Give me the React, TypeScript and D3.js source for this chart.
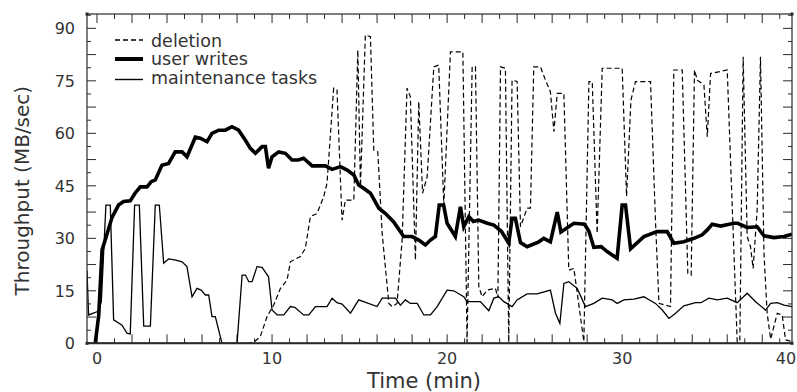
import React from "react";
import * as d3 from "d3";

// time (min), throughput (MB/sec)
const deletionSeries: [number, number][] = [
  [-0.57, 0], [8.7, 0], [8.95, 0.3], [9.33, 1.9], [9.71, 7.6], [10.1, 11], [10.48, 15.7], [10.86, 18.1],
  [11.05, 23.3], [11.23, 23.8], [11.62, 24.8], [11.9, 27.1], [12.19, 36.2], [12.57, 37.1], [12.95, 41.9],
  [13.14, 45.7], [13.52, 72.9], [13.71, 72.4], [13.9, 47.6], [14.0, 35.2], [14.19, 40.9], [14.67, 40.9],
  [14.9, 83.8], [15.05, 44.8], [15.33, 88.1], [15.62, 87.6], [15.81, 55.2], [16.04, 54.7], [16.29, 31.4],
  [16.67, 11.4], [16.86, 10.5], [17.14, 11.4], [17.43, 29.5], [17.71, 72.9], [17.9, 70.5], [18.19, 23.8],
  [18.38, 69], [18.6, 42.9], [18.86, 47.6], [19.24, 79], [19.52, 79.5], [19.81, 39.5], [20.19, 83.3],
  [20.9, 83.3], [21.14, 0.3], [21.43, 79], [21.62, 79], [21.81, 16.2], [22.0, 13.3], [22.29, 15.2],
  [22.76, 15.7], [22.9, 13], [23.05, 79], [23.33, 78.6], [23.52, 0.3], [23.71, 75.2], [24.0, 74.8],
  [24.19, 33.3], [24.57, 38.6], [24.76, 38.6], [24.95, 79], [25.33, 79], [25.62, 75.2], [25.9, 71.9],
  [26.1, 60.5], [26.29, 71.4], [26.67, 71.4], [26.95, 20.9], [27.24, 21.4], [27.81, 0.5], [28.1, 74.8],
  [28.29, 74.8], [28.57, 31.4], [28.86, 78.6], [30.0, 78.6], [30.25, 42], [30.5, 69.5], [30.76, 74.8],
  [31.62, 74.8], [31.9, 35.2], [32.1, 11.4], [32.76, 10.5], [32.95, 78.1], [33.43, 78.1], [33.75, 20],
  [33.94, 19.5], [34.13, 78.1], [34.29, 75.2], [34.67, 73.8], [34.86, 59], [35.05, 77.1], [36.0, 78.1],
  [36.57, 0.5], [36.72, 0.5], [36.91, 81.9], [37.14, 30.5], [37.33, 27.6], [37.48, 21.4], [37.71, 38.1],
  [37.9, 81.9], [38.1, 25.7], [38.28, 8.6], [38.48, 1.2], [38.86, 8.6], [39.14, 8.1], [39.33, 1], [39.7, 0.5],
];

const userWritesSeries: [number, number][] = [
  [-0.1, 0], [0.1, 8], [0.29, 26.7], [0.47, 29.5], [0.86, 36], [1.23, 39.5], [1.52, 40.5], [1.9, 40.7],
  [2.19, 43], [2.48, 44.7], [2.86, 44.7], [3.1, 46.2], [3.33, 46.7], [3.71, 50.9], [4.09, 51.4],
  [4.47, 54.7], [4.86, 54.7], [5.14, 53.3], [5.62, 58.9], [5.9, 58.6], [6.29, 57.6], [6.57, 60],
  [6.95, 60.9], [7.33, 60.9], [7.71, 61.9], [8.09, 60.9], [8.47, 58.1], [8.76, 55.7], [9.05, 54.3],
  [9.43, 56.2], [9.62, 56.2], [9.8, 50], [10.0, 53.3], [10.38, 54.7], [10.76, 54.3], [11.14, 52.4],
  [11.5, 52.4], [11.8, 52.9], [12.29, 50.7], [13.05, 50.7], [13.43, 49.7], [13.9, 50.5], [14.29, 49.5],
  [14.67, 48.1], [14.95, 45.2], [15.23, 44.3], [15.62, 42.9], [16.1, 38.6], [16.48, 37.1], [16.95, 34.7],
  [17.52, 30.5], [18.0, 30.5], [18.38, 29.5], [18.76, 28.1], [19.05, 29.5], [19.33, 30.5], [19.55, 39.5],
  [19.8, 39.5], [20.0, 34.3], [20.47, 30.5], [20.76, 39], [20.95, 33.3], [21.24, 36.2], [21.5, 34.8],
  [21.8, 35.2], [22.29, 34.3], [22.67, 33.8], [23.1, 32], [23.52, 28.6], [23.71, 35.7], [23.9, 35.7],
  [24.19, 28.8], [24.57, 27.6], [25.24, 29], [25.52, 30], [25.9, 29], [26.29, 37.5], [26.5, 31.8],
  [27.24, 34.3], [27.85, 34], [28.1, 32], [28.38, 27.4], [28.8, 27.6], [29.14, 26.2], [29.71, 24.3],
  [30.0, 39.5], [30.19, 39.5], [30.48, 27], [31.24, 30.5], [32.0, 31.9], [32.57, 31.9], [32.95, 28.6],
  [33.52, 29], [34.1, 30], [34.57, 31], [34.86, 32.4], [35.14, 34], [35.62, 33.5], [36.38, 34.3],
  [36.6, 34.3], [37.14, 33.1], [37.71, 33.3], [38.1, 30.7], [38.67, 30.2], [39.24, 30.5], [39.7, 31.2],
];

const maintenanceSeries: [number, number][] = [
  [-0.57, 20.9], [-0.48, 8.1], [0, 9], [0.1, 9.5], [0.25, 12], [0.51, 39.5], [0.76, 39.5], [0.95, 6.7],
  [1.43, 5.2], [1.71, 2.9], [1.9, 2.7], [2.15, 39.5], [2.42, 39.5], [2.67, 4.9], [3.05, 4.9],
  [3.33, 39.5], [3.56, 39.5], [3.81, 22.9], [4.09, 24.1], [4.5, 23.8], [4.86, 23.3], [5.14, 21.9],
  [5.43, 13.3], [5.71, 15.7], [5.95, 15.2], [6.19, 13.8], [6.38, 13.8], [6.57, 7.6], [6.76, 7.6],
  [7.14, 0], [8.0, 0], [8.29, 19.5], [8.48, 19.5], [8.67, 17.6], [8.86, 17.6], [9.14, 21.9], [9.43, 21.7],
  [9.8, 19], [10.0, 9.5], [10.29, 8.1], [10.67, 8.1], [11.05, 10.5], [11.3, 10.3], [11.8, 8.1],
  [12.1, 8.1], [12.48, 10.5], [13.14, 10.5], [13.43, 12.9], [13.71, 11.6], [14.0, 11.2], [14.48, 8.6],
  [14.95, 12.4], [16.0, 10.5], [16.29, 12.9], [17.05, 12.9], [17.33, 10.9], [17.62, 12.4], [17.9, 11.4],
  [18.29, 11.4], [18.67, 8.1], [19.05, 8.1], [19.43, 10.5], [20.0, 15.2], [20.38, 15], [20.95, 13.3],
  [21.14, 11.9], [21.9, 11.9], [22.38, 9.3], [22.67, 12.9], [22.95, 13.3], [23.24, 11.9], [23.71, 10.5],
  [24.0, 12.4], [24.57, 14.1], [25.14, 14.1], [25.9, 15.2], [26.19, 8.6], [26.44, 5.7], [26.67, 17.1],
  [26.95, 17.6], [27.43, 15.7], [27.9, 10.5], [28.38, 11.4], [28.86, 12.9], [29.43, 12.4], [29.71, 11.4],
  [30.1, 12.4], [30.67, 12.6], [31.24, 13.3], [31.9, 11.4], [32.29, 9.5], [32.67, 7.1], [33.05, 8.6],
  [33.52, 10.7], [34.19, 11.6], [34.5, 11.6], [34.95, 12.9], [35.43, 12.4], [36.0, 12.9], [36.57, 11.6],
  [37.14, 14.3], [37.62, 11.9], [38.19, 9.5], [38.48, 11.4], [38.86, 11.6], [39.24, 10.9], [39.7, 10.5],
];

const xTickLabels = [0, 10, 20, 30, 40];
const yTickLabels = [0, 15, 30, 45, 60, 75, 90];
const legendLabels = ["deletion", "user writes", "maintenance tasks"];

const W = 797;
const H = 392;
const plot = { left: 87, right: 792, top: 14, bottom: 343.3 };
const FONT = "'DejaVu Sans', Verdana, sans-serif";
const INK = "#2a2a2a";
const TEXT = "#333";

export default function App() {
  const x = d3.scaleLinear().domain([-0.57, 39.7]).range([plot.left, plot.right]);
  const y = d3.scaleLinear().domain([0, 94.1]).range([plot.bottom, plot.top]);
  const line = d3
    .line<[number, number]>()
    .x((d) => x(d[0]))
    .y((d) => y(d[1]));

  const minuteTicks = d3.range(0, 40, 1);
  const yMinor = d3.range(0, 94, 3.75);

  // the last x label sits on the page edge; keep it inside the page
  const xLabelPos = (t: number) => Math.min(x(t), W - 11);

  return (
    <div style={{ position: "fixed", left: 0, top: 0, width: W, height: H, background: "#fff" }}>
      <svg width={W} height={H} style={{ display: "block" }}>
        <defs>
          <clipPath id="plotArea">
            <rect x={plot.left} y={plot.top} width={plot.right - plot.left} height={plot.bottom - plot.top + 1} />
          </clipPath>
        </defs>

        {/* frame ticks, pointing inward */}
        <g stroke={INK} strokeWidth={1}>
          {minuteTicks.map((t) => {
            const len = t % 2 === 0 ? 9 : 5;
            return (
              <g key={`mt${t}`}>
                <line x1={x(t)} x2={x(t)} y1={plot.bottom} y2={plot.bottom - len} />
                <line x1={x(t)} x2={x(t)} y1={plot.top} y2={plot.top + len} />
              </g>
            );
          })}
          {yMinor.map((v, i) => {
            const len = i % 2 === 0 ? 9 : 4;
            return (
              <g key={`yt${i}`}>
                <line x1={plot.left} x2={plot.left + len} y1={y(v)} y2={y(v)} />
                <line x1={plot.right} x2={plot.right - len} y1={y(v)} y2={y(v)} />
              </g>
            );
          })}
        </g>

        {/* series */}
        <g clipPath="url(#plotArea)" fill="none" stroke="#000" strokeLinejoin="miter">
          <path d={line(maintenanceSeries) ?? ""} strokeWidth={1.3} />
          <path d={line(deletionSeries) ?? ""} strokeWidth={1.2} strokeDasharray="5,3" />
          <path d={line(userWritesSeries) ?? ""} strokeWidth={3.6} />
        </g>

        {/* frame */}
        <rect
          x={plot.left}
          y={plot.top}
          width={plot.right - plot.left}
          height={plot.bottom - plot.top}
          fill="none"
          stroke={INK}
          strokeWidth={1.2}
        />
        <line x1={plot.left} x2={plot.right} y1={plot.bottom} y2={plot.bottom} stroke={INK} strokeWidth={2} />
        {[
          [plot.left, plot.top],
          [plot.right, plot.top],
          [plot.left, plot.bottom],
          [plot.right, plot.bottom],
        ].map(([cx, cy], i) => (
          <rect key={`c${i}`} x={cx - 1.5} y={cy - 1.5} width={3} height={3} fill={INK} />
        ))}

        {/* tick labels */}
        <g fontFamily={FONT} fontSize={16} fill={TEXT}>
          {xTickLabels.map((t) => (
            <text key={`xl${t}`} x={xLabelPos(t)} y={363.5} textAnchor="middle">
              {t}
            </text>
          ))}
          {yTickLabels.map((v) => (
            <text key={`yl${v}`} x={75} y={y(v) + 5.8} textAnchor="end">
              {v}
            </text>
          ))}
        </g>

        {/* axis titles */}
        <text x={424} y={388} textAnchor="middle" fontFamily={FONT} fontSize={21} fill={TEXT}>
          Time (min)
        </text>
        <text
          transform={`translate(29,${(plot.top + plot.bottom) / 2 + 12}) rotate(-90)`}
          textAnchor="middle"
          fontFamily={FONT}
          fontSize={20}
          fill={TEXT}
        >
          Throughput (MB/sec)
        </text>

        {/* legend */}
        <g>
          <line x1={115} x2={143} y1={40} y2={40} stroke="#000" strokeWidth={1.3} strokeDasharray="5,3" />
          <line x1={115} x2={143} y1={59} y2={59} stroke="#000" strokeWidth={4} />
          <line x1={115} x2={143} y1={79.5} y2={79.5} stroke="#000" strokeWidth={1.4} />
          {legendLabels.map((label, i) => (
            <text
              key={label}
              x={151}
              y={[46.5, 65, 83.5][i]}
              fontFamily={FONT}
              fontSize={17.5}
              fill={TEXT}
            >
              {label}
            </text>
          ))}
        </g>
      </svg>
    </div>
  );
}
